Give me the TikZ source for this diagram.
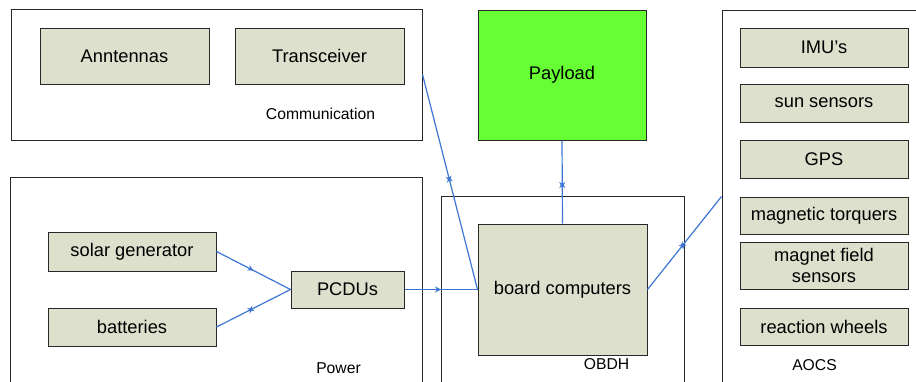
\documentclass[tikz,border=0pt]{standalone}
\usepackage{fontspec}
\setmainfont{Liberation Sans}
\usetikzlibrary{positioning,calc,arrows.meta,decorations.markings}
\definecolor{boxfill}{RGB}{221,224,204}
\definecolor{payloadgreen}{RGB}{102,255,51}
\definecolor{linkblue}{RGB}{62,118,212}
\definecolor{framegray}{RGB}{40,40,40}

\begin{document}
\begin{tikzpicture}[
        x=1pt, y=-1pt,
        group/.style={draw=framegray, line width=1pt, inner sep=0pt},
        unit/.style={draw=framegray, line width=1pt, fill=boxfill, inner sep=0pt,
            font=\fontsize{18.3}{21.5}\selectfont, align=center},
        grouplabel/.style={font=\fontsize{15.7}{18}\selectfont},
        link/.style={draw=linkblue, line width=1.2pt},
        onearrow/.style={postaction={decorate}, decoration={markings,
            mark=at position 0.5 with {\arrow[linkblue]{Stealth[length=6pt,width=6pt]}}}},
        twoarrow/.style={postaction={decorate}, decoration={markings,
            mark=at position 0.5 with {\arrow[linkblue]{Stealth[length=6pt,width=6pt]}},
            mark=at position 0.5 with {\arrow[linkblue]{Stealth[length=6pt,width=6pt,reversed]}}}}
    ]
    \useasboundingbox[fill=white] (0,0) rectangle (916,381);

    % Communication
    \node[group, minimum width=411pt, minimum height=131pt] (comm) at (216.5,74.5) {};
    \node[grouplabel] at ($(comm.south east) + (-102,-27)$) {Communication};
    \node[unit, minimum width=169pt, minimum height=56pt] (antennas) at (124.5,56) {Anntennas};
    \node[unit, minimum width=169pt, minimum height=56pt] (transceiver) at (319.5,56) {Transceiver};

    % Payload
    \node[unit, fill=payloadgreen, minimum width=168pt, minimum height=130pt] (payload) at (562,75) {Payload};

    % Power (runs off the bottom)
    \node[group, minimum width=412pt, minimum height=243pt] (power) at (216,298.5) {};
    \node[grouplabel] at ($(power.north east) + (-84,192)$) {Power};
    \node[unit, minimum width=168pt, minimum height=39pt] (solar) at (132,251.5) {solar generator};
    \node[unit, minimum width=168pt, minimum height=38pt] (batteries) at (132,327) {batteries};
    \node[unit, minimum width=113pt, minimum height=37pt] (pcdu) at (347.5,289.5) {PCDUs};

    % OBDH
    \node[group, minimum width=243pt, minimum height=224pt] (obdh) at (562.5,308) {};
    \node[grouplabel] at ($(obdh.north west) + (166,169)$) {OBDH};
    \node[unit, minimum width=169pt, minimum height=131pt] (board) at (562.5,289.5) {board computers};

    % AOCS (runs off the right and bottom)
    \node[group, minimum width=238pt, minimum height=410pt] (aocs) at (841,215) {};
    \node[grouplabel] at ($(aocs.north west) + (93,356)$) {AOCS};
    \node[unit, minimum width=168pt, minimum height=39pt] (imu) at (824,47.5) {IMU’s};
    \node[unit, minimum width=168pt, minimum height=38pt] (sun) at (824,103) {sun sensors};
    \node[unit, minimum width=168pt, minimum height=38pt] (gps) at (824,159) {GPS};
    \node[unit, minimum width=168pt, minimum height=37pt] (torquers) at (824,215.5) {magnetic torquers};
    \node[unit, minimum width=168pt, minimum height=47pt] (field) at (824,265.5) {magnet field\\sensors};
    \node[unit, minimum width=168pt, minimum height=37pt] (wheels) at (824,326.5) {reaction wheels};
    \coordinate (aocsin) at ($(aocs.north west) + (0,187)$);

    % links
    \draw[link, onearrow] (solar.east) -- (pcdu.west);
    \draw[link, twoarrow] (batteries.east) -- (pcdu.west);
    \draw[link, onearrow] (pcdu.east) -- (board.west);
    \draw[link, twoarrow] (comm.east) -- (board.west);
    \draw[link, twoarrow] (board.north) -- (payload.south);
    \draw[link, twoarrow] (board.east) -- (aocsin);

\end{tikzpicture}
\end{document}
